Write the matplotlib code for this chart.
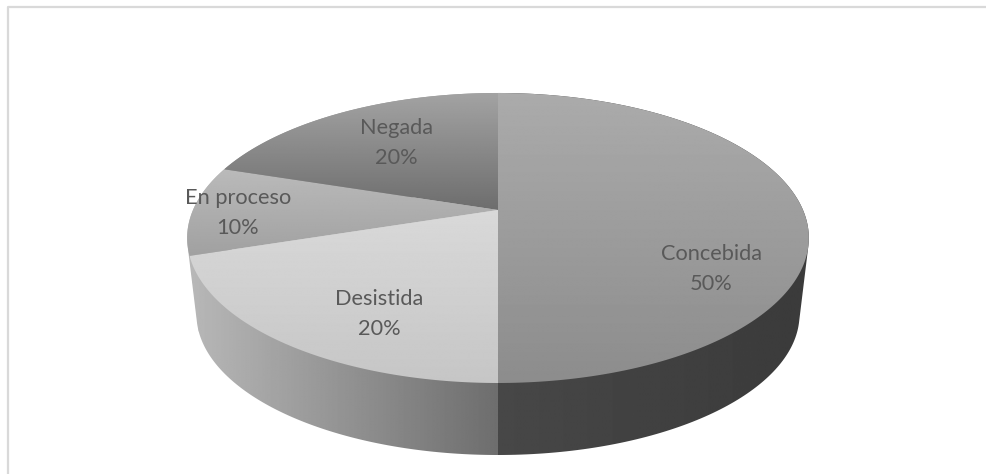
import numpy as np
import matplotlib
matplotlib.use("Agg")
import matplotlib.pyplot as plt
from matplotlib.patches import Polygon

categories = ["Concebida", "Desistida", "En proceso", "Negada"]
percentages = [50, 20, 10, 20]

# vertical gradient of each top face, (start, end) grey level
top_shades = [(0.67, 0.55), (0.85, 0.775), (0.73, 0.63), (0.64, 0.43)]
# horizontal gradient of each side wall
wall_shades = [(0.28, 0.23), (0.72, 0.43), (0.72, 0.70), (0.6, 0.6)]
label_xy = [(711, 269), (379, 314), (238, 213), (396, 143)]

CX, TOP_Y = 498, 210
A, B, K = 305, 139.6, 0.193
DEPTH, SHRINK = 77.2, 0.97


def project(theta, scale=1.0, drop=0.0):
    # perspective view of the unit disc, theta runs clockwise from 12 o'clock
    u = np.sin(theta)
    v = -np.cos(theta)
    d = 1 - K * v
    return np.column_stack((CX + scale * A * u / d, TOP_Y + drop + scale * B * v / d))


def convex_hull(points):
    # monotone chain, keeps the wall silhouette tangent to both rims
    pts = sorted(map(tuple, points))

    def half(seq):
        out = []
        for p in seq:
            while len(out) > 1 and ((out[-1][0] - out[-2][0]) * (p[1] - out[-2][1])
                                    - (out[-1][1] - out[-2][1]) * (p[0] - out[-2][0])) <= 0:
                out.pop()
            out.append(p)
        return out[:-1]

    return np.array(half(pts) + half(pts[::-1]))


def fill_gradient(ax, verts, shades, horizontal=False):
    patch = Polygon(verts, closed=True, facecolor="none", edgecolor="none")
    ax.add_patch(patch)
    x0, y0 = verts.min(axis=0)
    x1, y1 = verts.max(axis=0)
    ramp = np.linspace(shades[0], shades[1], 256)
    ramp = ramp.reshape(1, -1) if horizontal else ramp.reshape(-1, 1)
    img = ax.imshow(ramp, cmap="gray", vmin=0, vmax=1, aspect="auto",
                    extent=(x0, x1, y1, y0), interpolation="bilinear", zorder=patch.get_zorder())
    img.set_clip_path(patch)


fig = plt.figure(figsize=(9.86, 4.74), dpi=100)
ax = fig.add_axes([0, 0, 1, 1])

edges = np.radians(np.cumsum([0] + percentages) * 3.6)

# walls go back to front so the two big ones end up on top
for i in [3, 2, 1, 0]:
    t = np.linspace(edges[i], edges[i + 1], 200)
    upper = project(t)
    lower = project(t, SHRINK, DEPTH)
    fill_gradient(ax, convex_hull(np.vstack((upper, lower))), wall_shades[i], horizontal=True)

for start, end, shade in zip(edges[:-1], edges[1:], top_shades):
    t = np.linspace(start, end, 200)
    verts = np.vstack(([[CX, TOP_Y]], project(t)))
    fill_gradient(ax, verts, shade)

for name, pct, (x, y) in zip(categories, percentages, label_xy):
    ax.text(x, y, f"{name}\n{pct}%", ha="center", va="center", fontsize=15.7,
            family="Lato", color="#595959", linespacing=1.6, zorder=5)

# chart frame, runs off the canvas on the right and bottom
ax.plot([8, 8, 990], [480, 7, 7], color="#d9d9d9", lw=1.6, zorder=1)

ax.set_xlim(0, 986)
ax.set_ylim(474, 0)
ax.axis("off")
fig.savefig("out.png", dpi=100, facecolor="white")
